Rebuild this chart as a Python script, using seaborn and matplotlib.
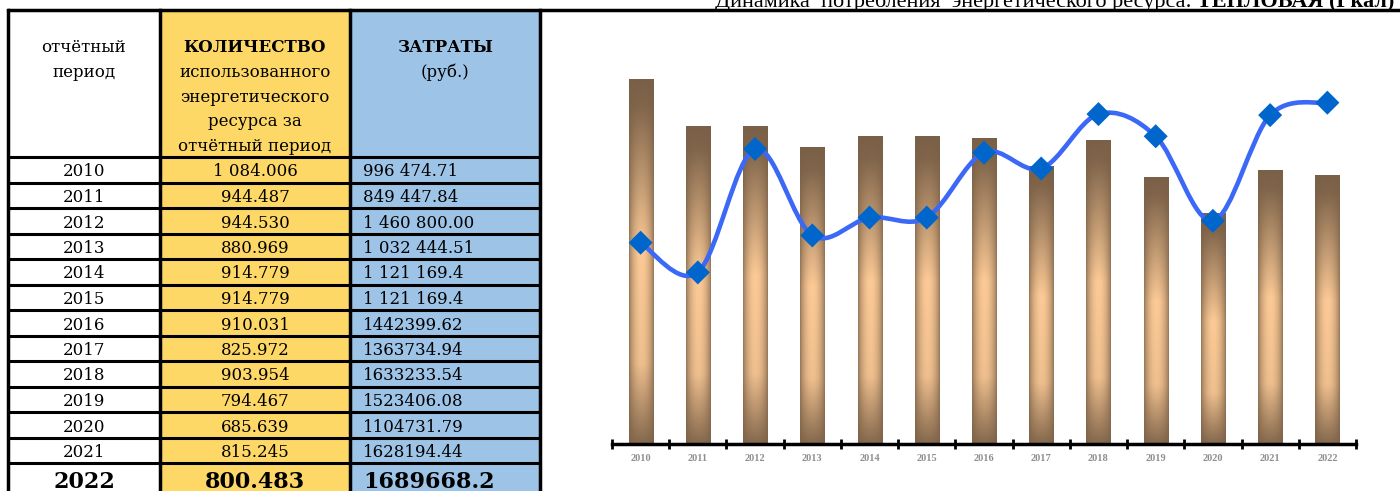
import matplotlib
matplotlib.use("Agg")
import matplotlib.pyplot as plt
import numpy as np
import pandas as pd
import seaborn as sns
from matplotlib.patches import Rectangle, PathPatch
from matplotlib.path import Path

# --- data -------------------------------------------------------------
years = [2010, 2011, 2012, 2013, 2014, 2015, 2016, 2017, 2018, 2019, 2020, 2021, 2022]
quantity = [1084.006, 944.487, 944.530, 880.969, 914.779, 914.779, 910.031,
            825.972, 903.954, 794.467, 685.639, 815.245, 800.483]
costs = [996474.71, 849447.84, 1460800.00, 1032444.51, 1121169.4, 1121169.4,
         1442399.62, 1363734.94, 1633233.54, 1523406.08, 1104731.79,
         1628194.44, 1689668.2]
quantity_labels = ["1 084.006", "944.487", "944.530", "880.969", "914.779",
                   "914.779", "910.031", "825.972", "903.954", "794.467",
                   "685.639", "815.245", "800.483"]
cost_labels = ["996 474.71", "849 447.84", "1 460 800.00", "1 032 444.51",
               "1 121 169.4", "1 121 169.4", "1442399.62", "1363734.94",
               "1633233.54", "1523406.08", "1104731.79", "1628194.44",
               "1689668.2"]
header_period = ["отчётный", "период"]
header_quantity = ["КОЛИЧЕСТВО", "использованного", "энергетического",
                   "ресурса за", "отчётный период"]
header_costs = ["ЗАТРАТЫ", "(руб.)"]
title_plain = "Динамика  потребления  энергетического ресурса:"
title_bold = "ТЕПЛОВАЯ (Гкал)"

df = pd.DataFrame({"year": [str(y) for y in years], "quantity": quantity, "costs": costs})

sns.set_theme(style="white")
plt.rcParams["font.family"] = ["DejaVu Serif"]
plt.rcParams["text.color"] = "black"

W, H = 1400, 491
fig = plt.figure(figsize=(W / 100, H / 100), dpi=100)
fig.patch.set_facecolor("white")

# --- table (pixel coordinates) ----------------------------------------
tab = fig.add_axes([0, 0, 1, 1])
tab.set_xlim(0, W)
tab.set_ylim(H, 0)
tab.axis("off")

YELLOW = "#fdd866"
BLUE = "#9dc3e6"
col_x = [8, 160, 350, 540]
top, head_bot, row_h = 10, 157, 25.5
n_rows = len(years)
bottom = H + 10

tab.add_patch(Rectangle((col_x[1], top), col_x[2] - col_x[1], bottom - top,
                        facecolor=YELLOW, edgecolor="none"))
tab.add_patch(Rectangle((col_x[2], top), col_x[3] - col_x[2], bottom - top,
                        facecolor=BLUE, edgecolor="none"))
for x in col_x:
    tab.plot([x, x], [top, bottom], color="black", lw=2.5, solid_capstyle="projecting")
tab.plot([col_x[0], W], [top, top], color="black", lw=2.5)
for i in range(n_rows):
    y = head_bot + row_h * i
    tab.plot([col_x[0], col_x[3]], [y, y], color="black", lw=2.2)

base = [52, 77, 102, 126, 151]
fs = 12
for k, s in enumerate(header_period):
    tab.text(84, base[k], s, ha="center", va="baseline", fontsize=fs)
for k, s in enumerate(header_quantity):
    tab.text(255, base[k], s, ha="center", va="baseline", fontsize=fs,
             fontweight="bold" if k == 0 else "normal")
for k, s in enumerate(header_costs):
    tab.text(445, base[k], s, ha="center", va="baseline", fontsize=fs,
             fontweight="bold" if k == 0 else "normal")

for i in range(n_rows):
    last = i == n_rows - 1
    yb = head_bot + row_h * i + (24.5 if last else 19.5)
    kw = dict(va="baseline", fontsize=16 if last else fs,
              fontweight="bold" if last else "normal")
    tab.text(84, yb, str(years[i]), ha="center", **kw)
    tab.text(255, yb, quantity_labels[i], ha="center", **kw)
    tab.text(363, yb, cost_labels[i], ha="left", **kw)

# --- chart ------------------------------------------------------------
x_left, x_right, y_axis, y_top = 612, 1356, 444, 40
ax = fig.add_axes([x_left / W, (H - y_axis) / H,
                   (x_right - x_left) / W, (y_axis - y_top) / H])
ax.patch.set_alpha(0)

sns.barplot(data=df, x="year", y="quantity", width=0.42, color="#7a6047",
            ax=ax, zorder=2)

dark = np.array([122, 96, 71]) / 255
light = np.array([252, 202, 150]) / 255
t = np.linspace(0, 1, 240)
s = np.linspace(0, 1, 60)
v = np.interp(t, [0, 0.07, 0.47, 0.78, 1.0], [0.0, 0.05, 1.0, 0.9, 0.08])
h = 0.2 + 0.8 * np.sin(np.pi * s) ** 0.7
shade = v[:, None] * h[None, :]
grad = dark + (light - dark) * shade[..., None]

for bar in list(ax.patches):
    x0, y0 = bar.get_x(), bar.get_y()
    w, hgt = bar.get_width(), bar.get_height()
    im = ax.imshow(grad, extent=(x0, x0 + w, y0, y0 + hgt), origin="upper",
                   aspect="auto", zorder=2, interpolation="bilinear")
    im.set_clip_path(bar)
    bar.set_facecolor("none")
    bar.set_edgecolor("none")

ax.set_xlim(-0.5, len(years) - 0.5)
ax.set_ylim(0, 1200)
ax.set_xlabel("")
ax.set_ylabel("")
ax.set_yticks([])
for side in ["top", "left", "right"]:
    ax.spines[side].set_visible(False)
ax.spines["bottom"].set_color("black")
ax.spines["bottom"].set_linewidth(2.5)
ax.spines["bottom"].set_zorder(5)
ax.set_xticks(np.arange(-0.5, len(years), 1.0), minor=True)
ax.tick_params(axis="x", which="minor", bottom=True, direction="inout",
               length=7, width=2, color="black")
ax.tick_params(axis="x", which="major", length=0, pad=7)
for lab in ax.get_xticklabels():
    lab.set_fontfamily("Liberation Serif")
    lab.set_fontweight("bold")
    lab.set_fontsize(7.5)
    lab.set_color("#8f8f8f")

# secondary axis for the cost curve
ax2 = ax.twinx()
ax2.set_ylim(0, 2_000_000)
ax2.set_yticks([])
for side in ax2.spines:
    ax2.spines[side].set_visible(False)

xs = np.arange(len(years), dtype=float)
pts = np.column_stack([xs, np.asarray(costs)])
verts, codes = [pts[0]], [Path.MOVETO]
for i in range(len(pts) - 1):
    p0 = pts[max(i - 1, 0)]
    p1, p2 = pts[i], pts[i + 1]
    p3 = pts[min(i + 2, len(pts) - 1)]
    verts += [p1 + (p2 - p0) / 6, p2 - (p3 - p1) / 6, p2]
    codes += [Path.CURVE4] * 3
ax2.add_patch(PathPatch(Path(verts, codes), facecolor="none",
                        edgecolor="#3b68f6", lw=3.3, zorder=3,
                        capstyle="round", joinstyle="round"))
sns.scatterplot(x=xs, y=costs, marker="D", s=150, color="#0066cc",
                edgecolor="none", ax=ax2, zorder=4, legend=False)
ax2.set_xlim(-0.5, len(years) - 0.5)
ax2.set_ylim(0, 2_000_000)

# --- title (cut at the top edge) --------------------------------------
renderer = fig.canvas.get_renderer()
tb = tab.text(1394, 7, title_bold, ha="right", va="baseline",
              fontsize=16, fontweight="bold", family="Liberation Serif")
bb = tb.get_window_extent(renderer=renderer)
x_edge = bb.x0 * W / fig.bbox.width - 5
tab.text(x_edge, 7, title_plain, ha="right", va="baseline", fontsize=16,
         family="Liberation Serif")

fig.savefig("out.png", dpi=100, facecolor="white")
